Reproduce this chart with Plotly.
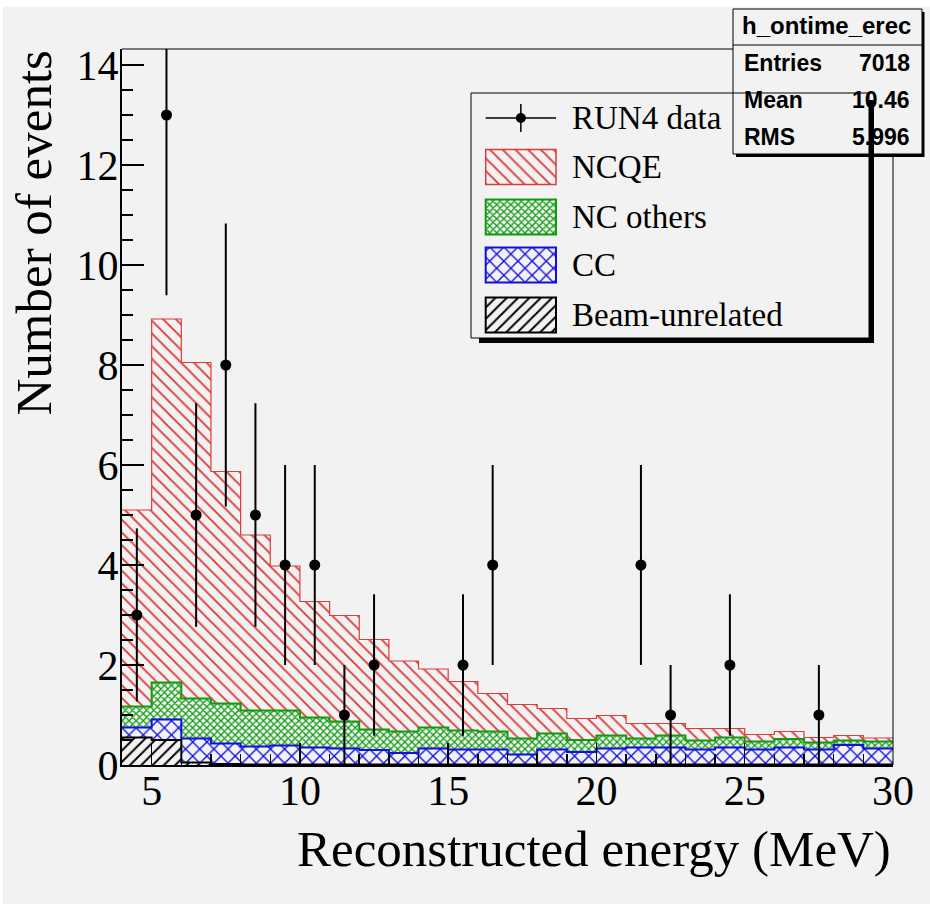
import numpy as np
import plotly.graph_objects as go

# ---------------- data ----------------
bin_edges = list(range(4, 31))                     # 1 MeV bins, 4..30 MeV
bin_centers = [e + 0.5 for e in range(4, 30)]

beam_unrelated = [0.55, 0.50, 0.05, 0.02, 0.01, 0.01, 0.01, 0.01, 0.01, 0.01, 0.01, 0.01, 0.01,
                  0.01, 0.01, 0.01, 0.01, 0.01, 0.01, 0.01, 0.01, 0.01, 0.01, 0.01, 0.01, 0.01]
cc = [0.20, 0.41, 0.48, 0.41, 0.36, 0.38, 0.34, 0.32, 0.29, 0.23, 0.32, 0.30, 0.30,
      0.20, 0.30, 0.25, 0.32, 0.34, 0.34, 0.30, 0.34, 0.30, 0.34, 0.30, 0.39, 0.32]
nc_others = [0.42, 0.74, 0.80, 0.80, 0.72, 0.70, 0.60, 0.54, 0.41, 0.43, 0.42, 0.38, 0.36,
             0.32, 0.32, 0.24, 0.26, 0.18, 0.24, 0.18, 0.20, 0.16, 0.17, 0.14, 0.09, 0.14]
ncqe = [3.93, 7.27, 6.72, 4.64, 3.51, 2.89, 2.32, 2.12, 1.80, 1.41, 1.17, 0.98, 0.76,
        0.68, 0.50, 0.43, 0.40, 0.30, 0.24, 0.24, 0.18, 0.14, 0.15, 0.10, 0.10, 0.07]
data_counts = [3, 13, 5, 8, 5, 4, 4, 1, 2, 0, 0, 2, 4, 0, 0, 0, 0, 4, 1, 0, 2, 0, 0, 1, 0, 0]

legend_labels = ["RUN4 data", "NCQE", "NC others", "CC", "Beam-unrelated"]
stats_title = "h_ontime_erec"
stats_labels = ["Entries", "Mean", "RMS"]
stats_values = ["7018", "10.46", "5.996"]
x_title = "Reconstructed energy (MeV)"
y_title = "Number of events"

# ---------------- style ----------------
RED, GREEN, BLUE, BLACK = "#e03a3a", "#109c10", "#1010e0", "#000000"
BG = "#f2f2f2"
SERIF = "Liberation Serif, Times New Roman, serif"
SANS = "Liberation Sans, Arial, sans-serif"

W_FIG, H_FIG = 930, 904
L, R, T, B = 122, 37, 49, 139
PW, PH = W_FIG - L - R, H_FIG - T - B


def px(x):
    return (x - L) / PW


def py(y):
    return (T + PH - y) / PH


fig = go.Figure()

# stacked histogram, bottom to top
components = [
    ("Beam-unrelated", beam_unrelated, BLACK, "/", 8, 0.24, 2),
    ("CC", cc, BLUE, "x", 10, 0.25, 2),
    ("NC others", nc_others, GREEN, "x", 5, 0.44, 2),
    ("NCQE", ncqe, RED, "\\", 9, 0.21, 1.2),
]
base = np.zeros(len(bin_centers))
tops = []
for name, vals, col, shp, sz, sol, lw in components:
    v = np.array(vals, dtype=float)
    fig.add_trace(go.Bar(
        x=bin_centers, y=v, base=base.copy(), width=1, name=name,
        marker=dict(color=col, line=dict(width=0),
                    pattern=dict(shape=shp, size=sz, solidity=sol, fgcolor=col,
                                 bgcolor="rgba(0,0,0,0)", fillmode="replace")),
        hoverinfo="skip", showlegend=False))
    base = base + v
    tops.append((base.copy(), col, lw))

# outlines (step contours)
for top, col, lw in reversed(tops):
    fig.add_trace(go.Scatter(
        x=bin_edges, y=list(top) + [top[-1]], mode="lines",
        line=dict(color=col, width=lw, shape="hv"),
        hoverinfo="skip", showlegend=False))

# data points
dx = [c for c, n in zip(bin_centers, data_counts) if n > 0]
dy = [n for n in data_counts if n > 0]
fig.add_trace(go.Scatter(
    x=dx, y=dy, mode="markers",
    marker=dict(color="black", size=11),
    error_y=dict(type="data", array=np.sqrt(dy), visible=True, color="black",
                 thickness=2, width=0),
    showlegend=False, hoverinfo="skip"))

# ---------------- hand-built legend (pixel overlay axes) ----------------
sw_x0, sw_x1 = 485.7, 556.0
sw_h = 35
row_y = [118, 167, 217, 265, 315]
for (name, vals, col, shp, sz, sol, lw), yc in zip(reversed(components), row_y[1:]):
    fig.add_trace(go.Bar(
        x=[(sw_x0 + sw_x1) / 2], y=[sw_h], base=[yc - sw_h / 2], width=[sw_x1 - sw_x0],
        xaxis="x2", yaxis="y2",
        marker=dict(color=col, line=dict(color=col, width=lw if lw > 1.5 else 1.5),
                    pattern=dict(shape=shp, size=sz, solidity=sol, fgcolor=col,
                                 bgcolor="rgba(0,0,0,0)", fillmode="replace")),
        hoverinfo="skip", showlegend=False))
fig.add_trace(go.Scatter(x=[sw_x0, sw_x1], y=[row_y[0], row_y[0]], mode="lines",
                         xaxis="x2", yaxis="y2", line=dict(color="black", width=1.5),
                         hoverinfo="skip", showlegend=False))
fig.add_trace(go.Scatter(x=[(sw_x0 + sw_x1) / 2] * 2, y=[row_y[0] - 14, row_y[0] + 14],
                         mode="lines", xaxis="x2", yaxis="y2",
                         line=dict(color="black", width=1.5),
                         hoverinfo="skip", showlegend=False))
fig.add_trace(go.Scatter(x=[(sw_x0 + sw_x1) / 2], y=[row_y[0]], mode="markers",
                         xaxis="x2", yaxis="y2", marker=dict(color="black", size=10),
                         hoverinfo="skip", showlegend=False))

shapes = []
# canvas
shapes.append(dict(type="rect", xref="paper", yref="paper", x0=px(3), x1=px(W_FIG + 5),
                   y0=py(H_FIG + 5), y1=py(7), fillcolor=BG, line=dict(width=0), layer="below"))
# frame top and right
shapes.append(dict(type="line", xref="paper", yref="paper", x0=0, x1=1, y0=1, y1=1,
                   line=dict(color="black", width=1)))
shapes.append(dict(type="line", xref="paper", yref="paper", x0=1, x1=1, y0=0, y1=1,
                   line=dict(color="black", width=1)))
# stats box (shadow, box, separator)
shapes.append(dict(type="rect", xref="paper", yref="paper", x0=px(736), x1=px(924.5),
                   y0=py(157), y1=py(12), fillcolor="black", line=dict(width=0)))
shapes.append(dict(type="rect", xref="paper", yref="paper", x0=px(733), x1=px(922),
                   y0=py(154), y1=py(9), fillcolor=BG, line=dict(color="black", width=1)))
shapes.append(dict(type="line", xref="paper", yref="paper", x0=px(733), x1=px(922),
                   y0=py(45), y1=py(45), line=dict(color="black", width=1)))
# legend shadow and border
shapes.append(dict(type="rect", xref="paper", yref="paper", x0=px(869), x1=px(874),
                   y0=py(343), y1=py(100), fillcolor="black", line=dict(width=0)))
shapes.append(dict(type="rect", xref="paper", yref="paper", x0=px(479), x1=px(874),
                   y0=py(343), y1=py(338), fillcolor="black", line=dict(width=0)))
shapes.append(dict(type="rect", xref="paper", yref="paper", x0=px(471), x1=px(869),
                   y0=py(338), y1=py(93), fillcolor="rgba(0,0,0,0)",
                   line=dict(color="black", width=1)))

ann = []
for lab, yc in zip(legend_labels, row_y):
    ann.append(dict(text=lab, xref="paper", yref="paper", x=px(570), y=py(yc),
                    xanchor="left", yanchor="middle", showarrow=False,
                    font=dict(family=SERIF, size=33, color="black")))
ann.append(dict(text="<b>%s</b>" % stats_title, xref="paper", yref="paper",
                x=px(826), y=py(26), xanchor="center", yanchor="middle", showarrow=False,
                font=dict(family=SANS, size=24, color="black")))
for lab, val, yc in zip(stats_labels, stats_values, [63, 100, 137]):
    ann.append(dict(text="<b>%s</b>" % lab, xref="paper", yref="paper", x=px(742),
                    y=py(yc), xanchor="left", yanchor="middle", showarrow=False,
                    font=dict(family=SANS, size=23, color="black")))
    ann.append(dict(text="<b>%s</b>" % val, xref="paper", yref="paper", x=px(912),
                    y=py(yc), xanchor="right", yanchor="middle", showarrow=False,
                    font=dict(family=SANS, size=23, color="black")))
ann.append(dict(text=x_title, xref="paper", yref="paper", x=1, y=py(849),
                xanchor="right", yanchor="middle", showarrow=False,
                font=dict(family=SERIF, size=51, color="black")))
ann.append(dict(text=y_title, xref="paper", yref="paper", x=px(33), y=1,
                xanchor="center", yanchor="top", textangle=-90, showarrow=False,
                font=dict(family=SERIF, size=51, color="black")))

axis_common = dict(showgrid=False, zeroline=False, showline=True, linewidth=2,
                   linecolor="black", ticks="inside", ticklen=22, tickwidth=1.5,
                   tickcolor="black", mirror=False,
                   tickfont=dict(family=SERIF, size=42, color="black"))

fig.update_layout(
    width=W_FIG, height=H_FIG,
    margin=dict(l=L, r=R, t=T, b=B, pad=0),
    paper_bgcolor="white", plot_bgcolor="rgba(0,0,0,0)",
    barmode="overlay", bargap=0, showlegend=False,
    xaxis=dict(range=[4, 30], tick0=0, dtick=5, ticklabelstandoff=-12,
               minor=dict(dtick=1, ticklen=11, ticks="inside", tickwidth=1.5,
                          tickcolor="black"),
               **axis_common),
    yaxis=dict(range=[0, PH / 50.0], tick0=0, dtick=2, ticklabelstandoff=-7,
               minor=dict(dtick=0.5, ticklen=11, ticks="inside", tickwidth=1.5,
                          tickcolor="black"),
               **axis_common),
    xaxis2=dict(overlaying="x", anchor="y2", range=[L, L + PW], visible=False,
                fixedrange=True),
    yaxis2=dict(overlaying="y", anchor="x2", range=[T + PH, T], visible=False,
                fixedrange=True),
    shapes=shapes, annotations=ann,
)

fig.write_html("out.html", config={"displayModeBar": False, "staticPlot": True},
               post_script="document.body.style.margin='0px';document.body.style.padding='0px';")
